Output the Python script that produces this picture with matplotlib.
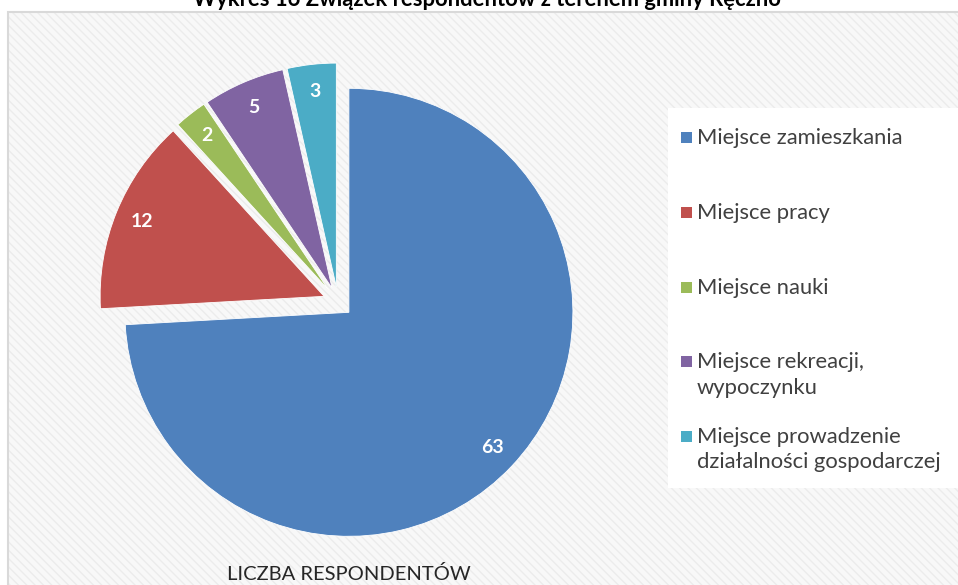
import math
import matplotlib.pyplot as plt
from matplotlib.patches import Rectangle

# data
categories = ["Miejsce zamieszkania", "Miejsce pracy", "Miejsce nauki",
              "Miejsce rekreacji,\nwypoczynku",
              "Miejsce prowadzenie\ndziałalności gospodarczej"]
values = [63, 12, 2, 5, 3]
colors = ["#4F81BD", "#C0504D", "#9BBB59", "#8064A2", "#4BACC6"]
explode = [0.067, 0.067, 0.067, 0.067, 0.067]

plt.rcParams["font.family"] = ["Lato", "DejaVu Sans"]

W, H = 958, 585
fig = plt.figure(figsize=(W / 100, H / 100), dpi=100)
fig.patch.set_facecolor("white")

# striped chart area
bg = Rectangle((8 / W, 0), 1 - 8 / W, 1 - 12 / H, transform=fig.transFigure,
               facecolor="#f8f8f8", edgecolor="#ececec", hatch="\\\\\\\\",
               linewidth=0, zorder=-3)
fig.patches.append(bg)
border = Rectangle((8 / W, -0.01), 1, 1 - 12 / H + 0.01, transform=fig.transFigure,
                   facecolor="none", edgecolor="#d9d9d9", linewidth=1.5, zorder=-2)
fig.patches.append(border)

# title, cut off at the top like the original
fig.text(487 / W, 1 - 6 / H, "Wykres 16 Związek respondentów z terenem gminy Ręczno",
         ha="center", va="baseline", fontsize=15.8, fontweight="bold", color="black")

# pie axes: radius 1 == 224 px; the blue wedge's tip sits at (349, 312)
r = 224
cx, cy = 338, 302
lim = 1.25
ax = fig.add_axes([(cx - r * lim) / W, (H - cy - r * lim) / H, 2 * r * lim / W, 2 * r * lim / H])
ax.set_zorder(1)
wedges, texts = ax.pie(values, colors=colors, explode=explode, startangle=90,
                       counterclock=False, radius=1,
                       wedgeprops=dict(edgecolor="white", linewidth=0.6))
ax.set_xlim(-lim, lim)
ax.set_ylim(-lim, lim)
ax.set_aspect("equal")
ax.axis("off")

# value labels
for w, v, e in zip(wedges, values, explode):
    ang = math.radians((w.theta1 + w.theta2) / 2)
    d = 0.88 + e
    ax.text(d * math.cos(ang), d * math.sin(ang), str(v), ha="center", va="center",
            color="white", fontsize=14, fontweight="bold")

# axis label under pie
fig.text(349 / W, 1 - 574 / H, "LICZBA RESPONDENTÓW", ha="center", va="center",
         fontsize=14.5, color="#262626")

# legend drawn by hand
fig.patches.append(Rectangle((668 / W, 1 - 488 / H), 1, 380 / H, transform=fig.transFigure,
                             facecolor="white", edgecolor="none", zorder=2))
for i, (lab, col) in enumerate(zip(categories, colors)):
    y = 138 + i * 74.8
    fig.patches.append(Rectangle((681 / W, 1 - (y + 5) / H), 11 / W, 11 / H,
                                 transform=fig.transFigure, facecolor=col,
                                 edgecolor="none", zorder=3))
    fig.text(697 / W, 1 - (y - 10) / H, lab, ha="left", va="top", fontsize=15.8,
             color="#404040", linespacing=1.32, zorder=4)

fig.savefig("out.png", dpi=100)
